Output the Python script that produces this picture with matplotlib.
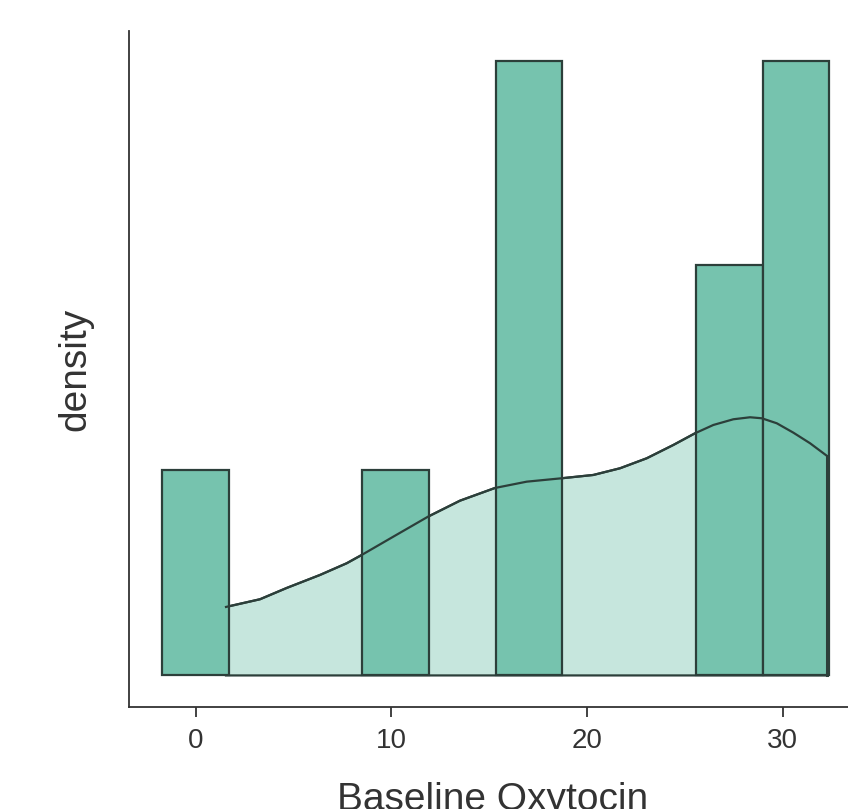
import matplotlib
matplotlib.use("Agg")
import matplotlib.pyplot as plt
import numpy as np

plt.rcParams['font.family'] = ['Liberation Sans', 'DejaVu Sans']

# Histogram (counts per bin)
bin_start = -1.72
bin_width = 3.41
counts = [1, 0, 0, 1, 0, 3, 0, 0, 2, 3]

# Density curve points (pixel coordinates of the reference)
kde_px = [226.0, 260.0, 286.7, 320.0, 346.7, 361.7, 393.3, 428.0, 460.0,
          495.0, 526.7, 561.7, 593.3, 620.0, 646.7, 673.3, 695.0, 713.3,
          733.3, 750.0, 761.7, 776.7, 793.3, 810.0, 827.0]
kde_py = [607.0, 599.3, 588.0, 575.0, 563.3, 555.0, 536.7, 516.7, 500.7,
          488.0, 481.7, 478.3, 475.0, 468.3, 458.3, 445.0, 433.3, 425.0,
          419.3, 417.3, 418.3, 423.3, 432.7, 443.3, 456.0]
# convert to data units (x: 0 at 195.8 px, 19.56 px/unit; y: 0 at 675.5 px, 205 px per count)
kde_x = [(p - 195.8) / 19.56 for p in kde_px]
kde_y = [(675.5 - p) / 205.0 for p in kde_py]

xticks = [0, 10, 20, 30]
xlabel = "Baseline Oxytocin"
ylabel = "density"

bar_color = "#76c3ae"
fill_color = "#c6e6dd"
edge_color = "#2c3f3a"

fig = plt.figure(figsize=(8.48, 8.09), dpi=100)
W, H = 848, 809
ax = fig.add_axes([129 / W, (809 - 707) / H, 728 / W, (707 - 31) / H])

# density fill
px = [kde_x[0]] + kde_x + [kde_x[-1]]
py = [0] + kde_y + [0]
ax.fill(px, py, facecolor=fill_color, edgecolor=edge_color, linewidth=1.6, zorder=1)

edges = [bin_start + i * bin_width for i in range(len(counts) + 1)]
for i, c in enumerate(counts):
    if c > 0:
        ax.bar(edges[i], c, width=bin_width, align='edge', color=bar_color,
               edgecolor=edge_color, linewidth=1.6, zorder=2)

ax.plot(kde_x, kde_y, color=edge_color, linewidth=1.6, zorder=3)
ax.plot([kde_x[-1], kde_x[-1]], [0, kde_y[-1]], color=edge_color, linewidth=2.2, zorder=3)

ax.set_xlim(-3.415, 33.8)
ax.set_ylim(-0.154, 3.144)
ax.set_xticks(xticks)
ax.set_xticklabels([str(t) for t in xticks])
ax.set_yticks([])
for s in ['top', 'right']:
    ax.spines[s].set_visible(False)
for s in ['left', 'bottom']:
    ax.spines[s].set_linewidth(1.3)
    ax.spines[s].set_color('#333333')
ax.tick_params(axis='x', length=7, width=1.3, color='#333333', pad=8,
               labelsize=20, labelcolor='#333333')
ax.set_xlabel(xlabel, fontsize=28, color='#333333', labelpad=20.5)
ax.set_ylabel(ylabel, fontsize=28, color='#333333', labelpad=26)

fig.savefig("out.png", dpi=100)
